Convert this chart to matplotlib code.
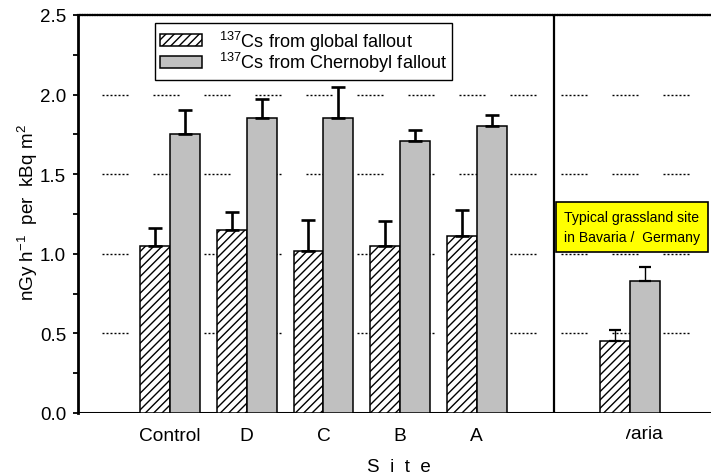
import matplotlib
matplotlib.use('Agg')
import matplotlib.pyplot as plt
import numpy as np
from matplotlib.transforms import Bbox, TransformedBbox

plt.rcParams['font.family'] = ['Liberation Sans', 'DejaVu Sans']
plt.rcParams['mathtext.fontset'] = 'custom'
plt.rcParams['mathtext.rm'] = 'Liberation Sans'
plt.rcParams['mathtext.it'] = 'Liberation Sans:italic'
plt.rcParams['lines.scale_dashes'] = False
plt.rcParams['hatch.linewidth'] = 1.0

sites = ['Control', 'D', 'C', 'B', 'A', 'Bavaria']
site_pos = [1, 2, 3, 4, 5, 7]
global_vals = [1.05, 1.15, 1.02, 1.05, 1.11, 0.45]
global_err = [0.11, 0.11, 0.19, 0.155, 0.165, 0.07]
chern_vals = [1.75, 1.855, 1.855, 1.71, 1.80, 0.83]
chern_err = [0.155, 0.12, 0.19, 0.07, 0.07, 0.09]

PX = 0.72  # points per pixel at dpi 100

fig = plt.figure(figsize=(7.11, 4.77), dpi=100)
ax = fig.add_axes([78 / 711, 63 / 477, 633 / 711, 398 / 477])

x = np.array(site_pos, dtype=float)
w = 0.39

# dotted grid segments
pattern = [2 * PX, 2 * PX] * 6 + [2 * PX, 25 * PX]
for yv in [0.5, 1.0, 1.5, 2.0]:
    ax.axhline(yv, color='black', lw=1.0, zorder=1, linestyle=(27 * PX, pattern))

ax.axhline(0, color='black', lw=2.2, zorder=1)

ax.bar(x - w / 2, global_vals, w, color='white', edgecolor='black',
       hatch='////', lw=1.1, zorder=3, label=r'$^{137}$Cs from global fallout')
ax.bar(x + w / 2, chern_vals, w, color='#c0c0c0', edgecolor='black',
       lw=1.1, zorder=3, label=r'$^{137}$Cs from Chernobyl fallout')

# error bars (upper only), thinner for Bavaria
for xs, vals, errs in [(x - w / 2, global_vals, global_err),
                       (x + w / 2, chern_vals, chern_err)]:
    ax.errorbar(xs[:5], vals[:5], yerr=[np.zeros(5), errs[:5]], fmt='none',
                ecolor='black', elinewidth=1.9, capsize=4.7, capthick=1.9, zorder=4)
    ax.errorbar(xs[5:], vals[5:], yerr=[[0], errs[5:]], fmt='none',
                ecolor='black', elinewidth=1.0, capsize=4.5, capthick=1.6, zorder=4)

ax.axvline(6.0, color='black', lw=1.6, zorder=2)

ax.set_xlim(-0.2, 8.053)
ax.set_ylim(0, 2.5)

for s in ['right', 'bottom']:
    ax.spines[s].set_visible(False)
ax.spines['left'].set_linewidth(2.0)
ax.spines['top'].set_linewidth(1.6)
ax.spines['top'].set_linestyle((0, (1.5 * PX, 1 * PX)))

ax.set_yticks(np.arange(0, 2.51, 0.5))
ax.set_yticks(np.arange(0.25, 2.5, 0.5), minor=True)
ax.set_yticklabels(['%.1f' % v for v in np.arange(0, 2.51, 0.5)], fontsize=13.5)
ax.tick_params(axis='y', which='both', direction='out', length=3.6, width=1.3, pad=5)
ax.set_xticks(site_pos[:5])
ax.set_xticklabels(sites[:5], fontsize=13.8)
ax.tick_params(axis='x', length=0, pad=10)

# Bavaria label, partly hidden
bav = ax.text(site_pos[5] + 0.01, -21 / 398, sites[5], transform=ax.get_xaxis_transform(),
              ha='center', va='center', fontsize=13.8, clip_on=True)
bav.set_clip_box(TransformedBbox(Bbox.from_extents(626 / 711, 0, 1, 1), fig.transFigure))

ax.set_ylabel(r'nGy h$^{-1}$  per  kBq m$^2$', fontsize=13.6)
ax.yaxis.set_label_coords(-0.06, 0.505)
ax.set_xlabel('S  i  t  e', fontsize=13.5)
ax.xaxis.set_label_coords(0.507, -0.113)

leg = ax.legend(loc='upper left', bbox_to_anchor=(155 / 711, 1 - 24 / 477),
                bbox_transform=fig.transFigure, borderaxespad=0, fontsize=13.1,
                fancybox=False, edgecolor='black', framealpha=1,
                handlelength=2.3, handleheight=0.66, handletextpad=0.9,
                labelspacing=-0.12, borderpad=0.3)
leg.get_frame().set_linewidth(1.0)

ax.text(632 / 711, 1 - 228 / 477, 'Typical grassland site\nin Bavaria /  Germany',
        transform=fig.transFigure, ha='center', va='center', fontsize=10.1,
        linespacing=1.55,
        bbox=dict(boxstyle='square,pad=0.55', facecolor='#ffff00', edgecolor='black', lw=1.2))

fig.savefig('out.png', dpi=100)
